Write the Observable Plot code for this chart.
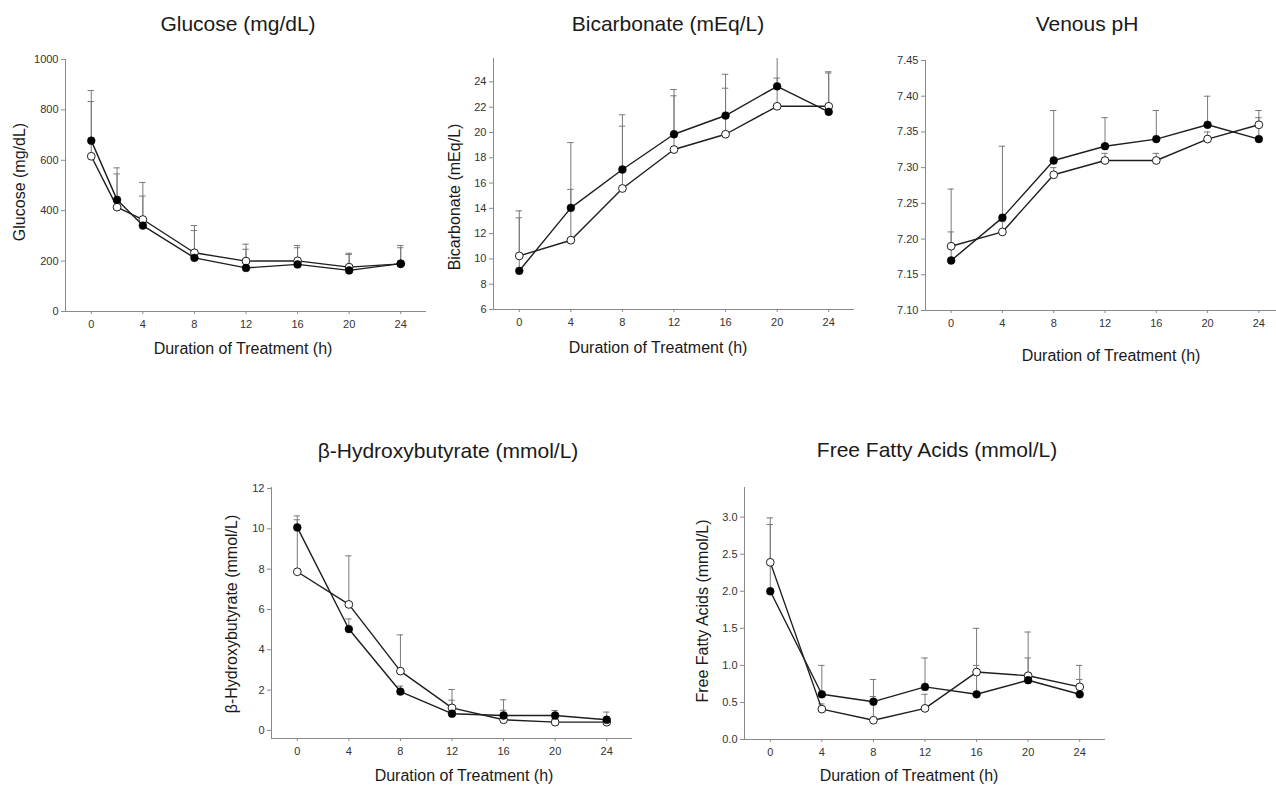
<!DOCTYPE html>
<html>
<head>
<meta charset="utf-8">
<script src="https://cdn.jsdelivr.net/npm/d3@7"></script>
<script src="https://cdn.jsdelivr.net/npm/@observablehq/plot@0.6"></script>
<style>
  html, body { margin: 0; padding: 0; background: #fff; overflow: hidden; }
  #root { position: relative; width: 1276px; height: 785px; overflow: hidden; font-family: "Liberation Sans", Arial, sans-serif; }
  .panel { position: absolute; }
  .lbl { position: absolute; white-space: nowrap; color: #1a1a1a; transform: translate(-50%, -50%); line-height: 1; }
  .ttl { font-size: 21px; }
  .xl { font-size: 16px; }
  .yl { font-size: 16px; transform: translate(-50%, -50%) rotate(-90deg); }
</style>
</head>
<body>
<div id="root"></div>
<script>
// ---- data ----
const hoursGlucose = [0, 2, 4, 8, 12, 16, 20, 24];
const hours = [0, 4, 8, 12, 16, 20, 24];
const xTicks = [0, 4, 8, 12, 16, 20, 24];

const glucoseFilled      = [678, 443, 341, 213, 173, 187, 163, 190];
const glucoseOpen        = [616, 414, 365, 233, 200, 201, 176, 189];
const glucoseFilledUpper = [877, 570, 458, 321, 247, 253, 226, 253];
const glucoseOpenUpper   = [833, 546, 512, 341, 267, 262, 231, 262];
const glucoseTicks = [0, 200, 400, 600, 800, 1000];

const bicarbFilled      = [9.06, 14.04, 17.07, 19.86, 21.34, 23.65, 21.63];
const bicarbOpen        = [10.24, 11.48, 15.57, 18.65, 19.86, 22.07, 22.07];
const bicarbFilledUpper = [13.25, 15.5, 20.5, 22.9, 24.6, 26.5, 24.7];
const bicarbOpenUpper   = [13.8, 19.2, 21.4, 23.4, 23.5, 24.3, 24.8];
const bicarbTicks = [6, 8, 10, 12, 14, 16, 18, 20, 22, 24];

const phFilled      = [7.17, 7.23, 7.31, 7.33, 7.34, 7.36, 7.34];
const phOpen        = [7.19, 7.21, 7.29, 7.31, 7.31, 7.34, 7.36];
const phFilledUpper = [7.27, 7.33, 7.38, 7.37, 7.38, 7.40, 7.38];
const phOpenUpper   = [7.21, 7.225, 7.30, 7.32, 7.32, 7.35, 7.37];
const phTicks = [7.10, 7.15, 7.20, 7.25, 7.30, 7.35, 7.40, 7.45];

const bhbFilled      = [10.07, 5.03, 1.93, 0.83, 0.74, 0.74, 0.53];
const bhbOpen        = [7.87, 6.25, 2.94, 1.12, 0.53, 0.41, 0.41];
const bhbFilledUpper = [10.45, 5.53, 2.2, 1.5, 1.0, 0.99, 0.91];
const bhbOpenUpper   = [10.64, 8.66, 4.74, 2.03, 1.52, 0.55, 0.55];
const bhbTicks = [0, 2, 4, 6, 8, 10, 12];

const ffaFilled      = [2.00, 0.61, 0.51, 0.71, 0.61, 0.80, 0.61];
const ffaOpen        = [2.39, 0.41, 0.26, 0.42, 0.91, 0.86, 0.71];
const ffaFilledUpper = [2.90, 1.00, 0.58, 1.10, 1.00, 1.10, 0.81];
const ffaOpenUpper   = [2.99, 0.48, 0.81, 0.61, 1.50, 1.45, 1.00];
const ffaTicks = [0, 0.5, 1.0, 1.5, 2.0, 2.5, 3.0];

// ---- panel layout ----
const panels = [
  { title: "Glucose (mg/dL)", ylabel: "Glucose (mg/dL)", x: hoursGlucose,
    filled: glucoseFilled, open: glucoseOpen, fu: glucoseFilledUpper, ou: glucoseOpenUpper,
    yDomain: [0, 1000], yTicks: glucoseTicks, fmt: d => String(d),
    frame: { left: 65, right: 426, top: 59, bottom: 311 },
    titlePos: [238, 23], xlPos: [243, 349], ylPos: [20, 182] },
  { title: "Bicarbonate (mEq/L)", ylabel: "Bicarbonate (mEq/L)", x: hours,
    filled: bicarbFilled, open: bicarbOpen, fu: bicarbFilledUpper, ou: bicarbOpenUpper,
    yDomain: [6, 25.85], yTicks: bicarbTicks, fmt: d => String(d),
    frame: { left: 493, right: 854, top: 58, bottom: 309 },
    titlePos: [668, 23], xlPos: [658, 348], ylPos: [455, 197] },
  { title: "Venous pH", ylabel: null, x: hours,
    filled: phFilled, open: phOpen, fu: phFilledUpper, ou: phOpenUpper,
    yDomain: [7.10, 7.45], yTicks: phTicks, fmt: d => d.toFixed(2),
    frame: { left: 925, right: 1284, top: 60, bottom: 310 },
    titlePos: [1087, 23], xlPos: [1111, 356], ylPos: null },
  { title: "\u03B2-Hydroxybutyrate (mmol/L)", ylabel: "\u03B2-Hydroxybutyrate (mmol/L)", x: hours,
    filled: bhbFilled, open: bhbOpen, fu: bhbFilledUpper, ou: bhbOpenUpper,
    yDomain: [-0.4, 12.05], yTicks: bhbTicks, fmt: d => String(d),
    frame: { left: 271, right: 632, top: 487, bottom: 738 },
    titlePos: [448, 450], xlPos: [464, 776], ylPos: [232, 614] },
  { title: "Free Fatty Acids (mmol/L)", ylabel: "Free Fatty Acids (mmol/L)", x: hours,
    filled: ffaFilled, open: ffaOpen, fu: ffaFilledUpper, ou: ffaOpenUpper,
    yDomain: [0, 3.4], yTicks: ffaTicks, fmt: d => d.toFixed(1),
    frame: { left: 744, right: 1105, top: 487, bottom: 739 },
    titlePos: [937, 449], xlPos: [909, 776], ylPos: [703, 611] }
];

const root = document.getElementById("root");
const ML = 60, MT = 8, MR = 2, MB = 30;
const capHalf = 0.25;

function addLabel(text, pos, cls) {
  const d = document.createElement("div");
  d.className = "lbl " + cls;
  d.textContent = text;
  d.style.left = pos[0] + "px";
  d.style.top = pos[1] + "px";
  root.appendChild(d);
}

for (const p of panels) {
  const filled = p.x.map((h, i) => ({ h, v: p.filled[i], up: p.fu[i] }));
  const open = p.x.map((h, i) => ({ h, v: p.open[i], up: p.ou[i] }));
  const both = filled.concat(open);
  const f = p.frame;
  const w = f.right - f.left + ML + MR;
  const hgt = f.bottom - f.top + MT + MB;

  const chart = Plot.plot({
    width: w, height: hgt,
    marginLeft: ML, marginRight: MR, marginTop: MT, marginBottom: MB,
    style: { fontFamily: '"Liberation Sans", Arial, sans-serif', fontSize: "11px", color: "#333", background: "transparent", overflow: "visible" },
    x: { domain: [-2, 26], label: null },
    y: { domain: p.yDomain, label: null },
    marks: [
      Plot.ruleX([-2], { stroke: "#8a8a8a", strokeWidth: 1 }),
      Plot.ruleY([p.yDomain[0]], { stroke: "#8a8a8a", strokeWidth: 1 }),
      Plot.axisY({ ticks: p.yTicks, tickFormat: p.fmt, tickSize: 4, tickPadding: 3, stroke: "#8a8a8a", fill: "#333", label: null }),
      Plot.axisX({ ticks: xTicks, tickFormat: d => String(d), tickSize: 3, tickPadding: 6, stroke: "#8a8a8a", fill: "#333", label: null }),
      // error bars (upper)
      Plot.ruleX(both, { x: "h", y1: "v", y2: "up", stroke: "#7a7a7a", strokeWidth: 1, clip: true }),
      Plot.ruleY(both, { y: "up", x1: d => d.h - capHalf, x2: d => d.h + capHalf, stroke: "#7a7a7a", strokeWidth: 1, clip: true }),
      // lines
      Plot.line(filled, { x: "h", y: "v", stroke: "#1e1e1e", strokeWidth: 1.4 }),
      Plot.line(open, { x: "h", y: "v", stroke: "#1e1e1e", strokeWidth: 1.4 }),
      // markers
      Plot.dot(open, { x: "h", y: "v", r: 3.9, fill: "#fff", stroke: "#1e1e1e", strokeWidth: 1 }),
      Plot.dot(filled, { x: "h", y: "v", r: 3.9, fill: "#000", stroke: "#000", strokeWidth: 0.5 })
    ]
  });
  chart.classList.add("panel");
  chart.style.left = (f.left - ML) + "px";
  chart.style.top = (f.top - MT) + "px";
  root.appendChild(chart);

  addLabel(p.title, p.titlePos, "ttl");
  addLabel("Duration of Treatment (h)", p.xlPos, "xl");
  if (p.ylabel) addLabel(p.ylabel, p.ylPos, "yl");
}
</script>
</body>
</html>
